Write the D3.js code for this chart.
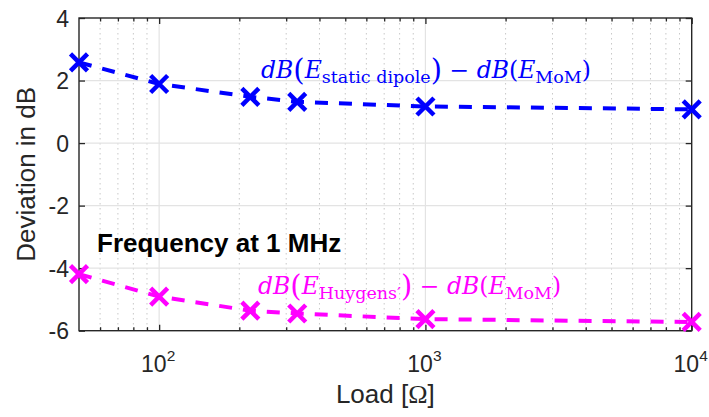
<!DOCTYPE html>
<html>
<head>
<meta charset="utf-8">
<script src="https://cdn.jsdelivr.net/npm/d3@7"></script>
<style>
  html, body { margin: 0; padding: 0; background: #fff; }
  svg { display: block; }
</style>
</head>
<body>
<svg id="chart" width="709" height="417"></svg>
<script>
// Load resistances (Ohm) and deviation in dB for each model
const loads = [50, 100, 220, 330, 1000, 10000];
const staticDipole = [2.58, 1.89, 1.48, 1.32, 1.17, 1.08];
const huygens = [-4.19, -4.91, -5.36, -5.45, -5.63, -5.72];
const yTicks = [-6, -4, -2, 0, 2, 4];
const xMajorTicks = [100, 1000, 10000];
const xMinorTicks = [60, 70, 80, 90, 200, 300, 400, 500, 600, 700, 800, 900,
                     2000, 3000, 4000, 5000, 6000, 7000, 8000, 9000];

const W = 709, H = 417;
const m = { left: 79, right: 17.3, top: 18, bottom: 86.3 };
const iw = W - m.left - m.right, ih = H - m.top - m.bottom;

const svg = d3.select("#chart");
const g = svg.append("g").attr("transform", `translate(${m.left},${m.top})`);

const x = d3.scaleLog().domain([50, 10000]).range([0, iw]);
const y = d3.scaleLinear().domain([-6, 4]).range([ih, 0]);

const axisColor = "#262626";
const sans = "'Liberation Sans', Arial, sans-serif";

// Grid
g.append("g").selectAll("line").data(xMinorTicks).join("line")
  .attr("x1", d => x(d)).attr("x2", d => x(d)).attr("y1", 0).attr("y2", ih)
  .attr("stroke", "#c8c8c8").attr("stroke-width", 1).attr("stroke-dasharray", "1.5,3.5");
g.append("g").selectAll("line").data(xMajorTicks.slice(0, 2)).join("line")
  .attr("x1", d => x(d)).attr("x2", d => x(d)).attr("y1", 0).attr("y2", ih)
  .attr("stroke", "#e3e3e3").attr("stroke-width", 1.2);
g.append("g").selectAll("line").data(yTicks.slice(1, -1)).join("line")
  .attr("x1", 0).attr("x2", iw).attr("y1", d => y(d)).attr("y2", d => y(d))
  .attr("stroke", "#e3e3e3").attr("stroke-width", 1.2);

// Axes (ticks pointing inward on all four sides)
const tickStyle = sel => {
  sel.select(".domain").remove();
  sel.selectAll(".tick line").attr("stroke", axisColor).attr("stroke-width", 1.3);
};
const bottomMajor = g.append("g").attr("transform", `translate(0,${ih})`)
  .call(d3.axisBottom(x).tickValues(xMajorTicks).tickSize(-6).tickFormat(() => ""));
tickStyle(bottomMajor);
const bottomMinor = g.append("g").attr("transform", `translate(0,${ih})`)
  .call(d3.axisBottom(x).tickValues(xMinorTicks).tickSize(-3.5).tickFormat(() => ""));
tickStyle(bottomMinor);
const topMajor = g.append("g")
  .call(d3.axisTop(x).tickValues(xMajorTicks).tickSize(-6).tickFormat(() => ""));
tickStyle(topMajor);
const topMinor = g.append("g")
  .call(d3.axisTop(x).tickValues(xMinorTicks).tickSize(-3.5).tickFormat(() => ""));
tickStyle(topMinor);

// Power-of-ten labels
const xl = g.append("g").attr("transform", `translate(0,${ih})`);
xMajorTicks.forEach(v => {
  const t = xl.append("text").attr("x", x(v) - 1).attr("y", 41.5)
    .attr("text-anchor", "middle").attr("font-family", sans).attr("font-size", 23)
    .attr("fill", axisColor);
  t.append("tspan").text("10");
  t.append("tspan").attr("dy", -11).attr("font-size", 15.5).text(Math.round(Math.log10(v)));
});

const left = g.append("g")
  .call(d3.axisLeft(y).tickValues(yTicks).tickSize(-6).tickFormat(d => String(d)));
tickStyle(left);
left.selectAll(".tick text").attr("font-family", sans).attr("font-size", 23)
  .attr("fill", axisColor).attr("x", -10).attr("dy", "0.36em");
const right = g.append("g").attr("transform", `translate(${iw},0)`)
  .call(d3.axisRight(y).tickValues(yTicks).tickSize(-6).tickFormat(() => ""));
tickStyle(right);

// Box
g.append("rect").attr("x", 0).attr("y", 0).attr("width", iw).attr("height", ih)
  .attr("fill", "none").attr("stroke", axisColor).attr("stroke-width", 1.4);

// Axis titles
svg.append("text").attr("x", m.left + iw / 2).attr("y", 403)
  .attr("text-anchor", "middle").attr("font-family", sans).attr("font-size", 26)
  .attr("fill", axisColor)
  .call(t => {
    t.append("tspan").text("Load [");
    t.append("tspan").attr("font-family", "'Liberation Serif', serif").text("Ω");
    t.append("tspan").text("]");
  });
svg.append("text").attr("transform", `translate(35,${m.top + ih / 2}) rotate(-90)`)
  .attr("text-anchor", "middle").attr("font-family", sans).attr("font-size", 26)
  .attr("fill", axisColor).text("Deviation in dB");

// Series
const series = [
  { values: staticDipole, color: "#0000ff" },
  { values: huygens, color: "#ff00ff" }
];
const line = d3.line().x(d => x(d[0])).y(d => y(d[1]));
series.forEach(s => {
  const pts = loads.map((l, i) => [l, s.values[i]]);
  g.append("path").datum(pts).attr("d", line).attr("fill", "none")
    .attr("stroke", s.color).attr("stroke-width", 4).attr("stroke-dasharray", "13,11");
  const r = 8.5;
  g.append("g").selectAll("path").data(pts).join("path")
    .attr("d", d => {
      const cx = x(d[0]), cy = y(d[1]);
      return `M${cx - r},${cy - r}L${cx + r},${cy + r}M${cx - r},${cy + r}L${cx + r},${cy - r}`;
    })
    .attr("stroke", s.color).attr("stroke-width", 4.5).attr("fill", "none");
});

// Math-style series labels
const serif = "'DejaVu Serif', 'Liberation Serif', serif";
function mathLabel(px, py, color, sub) {
  const t = svg.append("text").attr("x", px).attr("y", py)
    .attr("font-family", serif).attr("font-size", 23.5).attr("fill", color);
  const add = (txt, opts = {}) => {
    const s = t.append("tspan").text(txt);
    if (opts.italic) s.attr("font-style", "italic");
    if (opts.size) s.attr("font-size", opts.size);
    if (opts.dy) s.attr("dy", opts.dy);
    if (opts.dx) s.attr("dx", opts.dx);
    return s;
  };
  add("dB", { italic: true });
  add("(", { size: 29, dy: 2 });
  add("E", { italic: true, dy: -2 });
  add(sub, { size: 17.5, dy: 5 });
  add(")", { size: 29, dy: -3 });
  add(" − ", { dy: -2 });
  add("dB", { italic: true });
  add("(");
  add("E", { italic: true });
  add("MoM", { size: 17.5, dy: 5 });
  add(")", { dy: -5 });
}
mathLabel(261, 78, "#0000ff", "static dipole");
mathLabel(258, 294, "#ff00ff", "Huygens′");

// Annotation
svg.append("text").attr("x", 97).attr("y", 252).attr("font-family", sans)
  .attr("font-weight", "bold").attr("font-size", 26).attr("fill", "#000")
  .text("Frequency at 1 MHz");
</script>
</body>
</html>
